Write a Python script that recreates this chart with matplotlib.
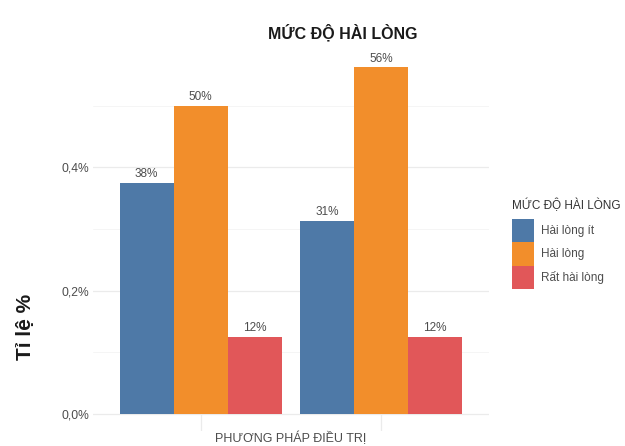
import matplotlib
matplotlib.use("Agg")
import matplotlib.pyplot as plt
import numpy as np
from matplotlib.ticker import FixedLocator

plt.rcParams['font.family'] = ['Liberation Sans', 'DejaVu Sans']

# ---- data ----
groups = ["Nhóm 1", "Nhóm 2"]
series_names = ["Hài lòng ít", "Hài lòng", "Rất hài lòng"]
hai_long_it = [0.375, 0.3125]
hai_long = [0.5, 0.5625]
rat_hai_long = [0.125, 0.125]
bar_labels = [["38%", "31%"], ["50%", "56%"], ["12%", "12%"]]
y_ticks = [0.0, 0.2, 0.4]
y_tick_labels = ["0,0%", "0,2%", "0,4%"]
colors = ["#4E79A7", "#F28E2B", "#E15759"]

series = [hai_long_it, hai_long, rat_hai_long]

fig = plt.figure(figsize=(6.25, 4.46), dpi=100)
ax = fig.add_axes([92.5/625, (446-431)/446, (489-92.5)/625, (431-50)/446])

x = np.arange(1, len(groups) + 1)
w = 0.3
handles = []
for i, (vals, name, col) in enumerate(zip(series, series_names, colors)):
    pos = x + (i - 1) * w
    b = ax.bar(pos, vals, width=w, color=col, label=name, zorder=3, linewidth=0)
    handles.append(b)
    for px, v, lab in zip(pos, vals, bar_labels[i]):
        ax.annotate(lab, (px, v), xytext=(0, 2), textcoords="offset points",
                    ha="center", va="bottom", fontsize=8.5, color="#4d4d4d")

ymax = max(max(s) for s in series)
pad = ymax * 0.05
ax.set_ylim(-pad, ymax + pad)
ax.set_xlim(0.4, len(groups) + 0.6)

ax.yaxis.set_major_locator(FixedLocator(y_ticks))
ax.yaxis.set_minor_locator(FixedLocator([0.1, 0.3, 0.5]))
ax.set_yticklabels(y_tick_labels)
ax.set_xticks([])
ax.tick_params(axis="both", which="both", length=0)
ax.tick_params(axis="y", labelsize=8.7, labelcolor="#4d4d4d", pad=2.5)

ax.grid(True, which="major", axis="y", color="#EBEBEB", linewidth=0.9, zorder=0)
ax.grid(True, which="minor", axis="y", color="#F2F2F2", linewidth=0.5, zorder=0)
# short vertical lines under each group (visible part of x gridlines)
ax.vlines(x, -pad, 0, color="#EBEBEB", linewidth=0.9, zorder=0)
for s in ax.spines.values():
    s.set_visible(False)

fig.text(343/625, 1 - 33/446, "MỨC ĐỘ HÀI LÒNG", ha="center", va="center",
         fontsize=11.5, fontweight="bold", color="#1a1a1a")
fig.text(25/625, 1 - 327/446, "Tỉ lệ %", ha="center", va="center", rotation=90,
         fontsize=15, fontweight="bold", color="#1a1a1a")
fig.text(291/625, 3.5/446, "PHƯƠNG PHÁP ĐIỀU TRỊ", ha="center", va="baseline",
         fontsize=9, color="#4d4d4d")

leg = fig.legend(handles=handles, labels=series_names, loc="upper left",
                 bbox_to_anchor=(504/625, 1 - 190/446), frameon=False,
                 title="MỨC ĐỘ HÀI LÒNG", title_fontsize=8.5, fontsize=8.5,
                 handlelength=1.86, handleheight=2.68, labelspacing=0.0,
                 handletextpad=0.6, borderpad=0.2)
leg._legend_box.align = "left"
leg._legend_box.sep = 5
for t in leg.get_texts():
    t.set_color("#4d4d4d")
leg.get_title().set_color("#333333")

fig.savefig("out.png", dpi=100, facecolor="white")
